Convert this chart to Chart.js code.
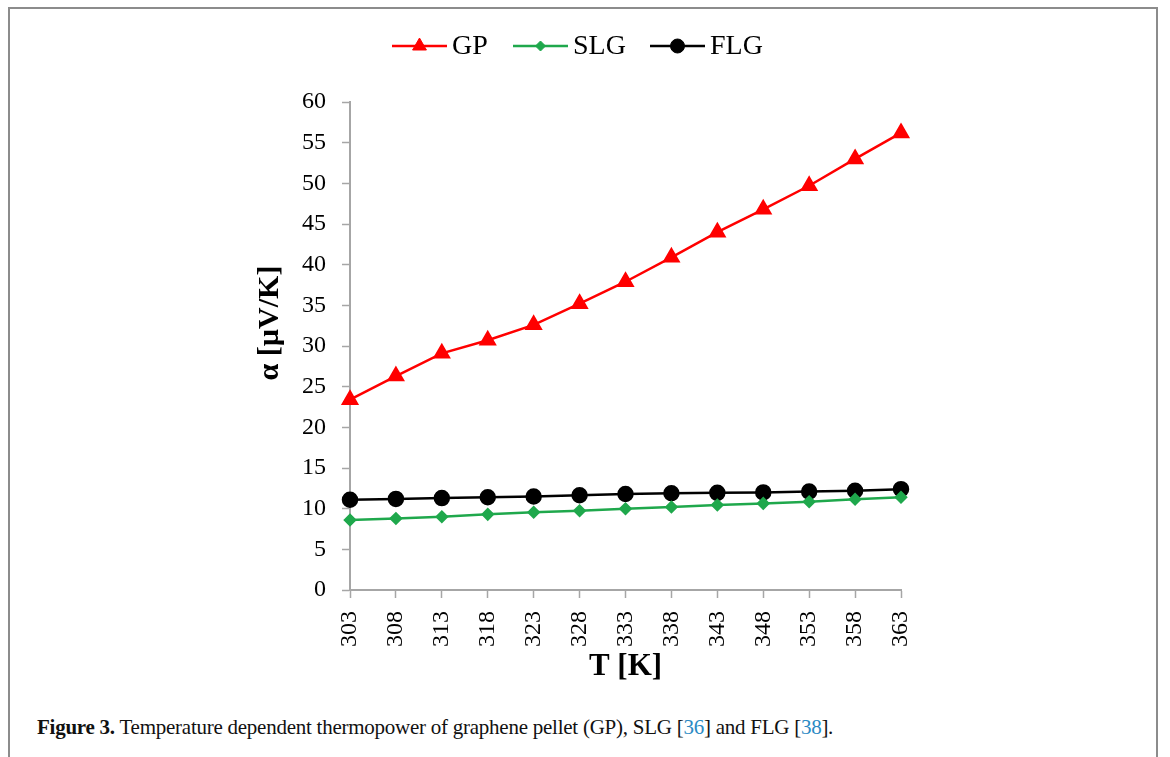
<!DOCTYPE html>
<html>
<head>
<meta charset="utf-8">
<script src="https://cdn.jsdelivr.net/npm/chart.js@4.4.1/dist/chart.umd.min.js"></script>
<style>
  html, body { margin: 0; padding: 0; background: #fff; }
  body { width: 1170px; height: 757px; position: relative; overflow: hidden; }
  #frame {
    position: absolute; left: 8px; top: 7px; width: 1150px; height: 800px;
    border: 2px solid #8c8c8c; box-sizing: border-box;
  }
  #chart { position: absolute; left: 0; top: 0; }
  #caption {
    position: absolute; left: 37px; top: 715px;
    font-family: "Liberation Serif", serif; font-size: 21px; color: #111;
    letter-spacing: -0.25px; white-space: nowrap;
  }
  #caption b { font-weight: bold; }
  #caption .ref { color: #2b8ac4; }
</style>
</head>
<body>
<div id="frame"></div>
<canvas id="chart" width="1170" height="700"></canvas>
<div id="caption"><b>Figure 3.</b> Temperature dependent thermopower of graphene pellet (GP), SLG [<span class="ref">36</span>] and FLG [<span class="ref">38</span>].</div>

<script>
// Dados
const temperatures = ['303', '308', '313', '318', '323', '328', '333', '338', '343', '348', '353', '358', '363'];
const gpValues  = [23.4, 26.3, 29.1, 30.7, 32.6, 35.2, 37.9, 40.9, 44.0, 46.8, 49.7, 53.0, 56.2];
const slgValues = [8.6, 8.8, 9.0, 9.3, 9.55, 9.75, 10.0, 10.2, 10.45, 10.65, 10.85, 11.15, 11.4];
const flgValues = [11.1, 11.2, 11.3, 11.4, 11.5, 11.65, 11.8, 11.9, 11.95, 12.0, 12.1, 12.2, 12.4];
const yTicks = { min: 0, max: 60, step: 5 };

const axisColor = '#a6a6a6';
const serif = '"Liberation Serif", "Times New Roman", serif';

// Legenda e título do eixo Y desenhados à mão
const extraText = {
  id: 'extraText',
  afterDraw(chart) {
    const ctx = chart.ctx;
    ctx.save();

    // título do eixo Y
    ctx.translate(270, 323);
    ctx.rotate(-Math.PI / 2);
    ctx.font = 'bold 30px ' + serif;
    ctx.fillStyle = '#000';
    ctx.textAlign = 'center';
    ctx.textBaseline = 'middle';
    ctx.fillText('α [µV/K]', 0, 0);
    ctx.restore();

    // legenda: linha + marcador + texto
    const starts = [392, 513, 650];
    const y = 46;
    chart.data.datasets.forEach((ds, i) => {
      const x0 = starts[i];
      const x1 = x0 + 55;
      ctx.save();
      ctx.strokeStyle = ds.borderColor;
      ctx.fillStyle = ds.borderColor;
      ctx.lineWidth = ds.borderWidth;
      ctx.beginPath();
      ctx.moveTo(x0, y);
      ctx.lineTo(x1, y);
      ctx.stroke();
      ctx.lineWidth = 1;
      Chart.helpers.drawPoint(ctx, {
        pointStyle: ds.pointStyle,
        radius: ds.pointRadius,
        rotation: 0,
        borderWidth: 1
      }, (x0 + x1) / 2, y);
      ctx.fillStyle = '#000';
      ctx.font = '28px ' + serif;
      ctx.textAlign = 'left';
      ctx.textBaseline = 'middle';
      ctx.fillText(ds.label, x1 + 5, y + 1);
      ctx.restore();
    });
  }
};

function makeDataset(label, data, color, style, radius) {
  return {
    label,
    data,
    borderColor: color,
    backgroundColor: color,
    pointBackgroundColor: color,
    pointBorderColor: color,
    borderWidth: 2.5,
    pointStyle: style,
    pointRadius: radius,
    pointHoverRadius: radius,
    tension: 0,
    fill: false
  };
}

const chart = new Chart(document.getElementById('chart'), {
  type: 'line',
  data: {
    labels: temperatures,
    datasets: [
      makeDataset('GP', gpValues, '#ff0000', 'triangle', 8),
      makeDataset('SLG', slgValues, '#1fa84c', 'rectRot', 5),
      makeDataset('FLG', flgValues, '#000000', 'circle', 7)
    ]
  },
  options: {
    responsive: false,
    animation: false,
    layout: { padding: { left: 0, right: 269, top: 102, bottom: 0 } },
    plugins: {
      legend: { display: false },
      tooltip: { enabled: false }
    },
    scales: {
      x: {
        offset: false,
        grid: {
          drawOnChartArea: false,
          drawTicks: true,
          tickLength: 8,
          tickColor: axisColor,
          tickWidth: 1.5
        },
        border: { color: axisColor, width: 2 },
        ticks: {
          autoSkip: false,
          minRotation: 90,
          maxRotation: 90,
          padding: 13,
          color: '#000',
          font: { family: serif, size: 24 }
        },
        title: {
          display: true,
          text: 'T [K]',
          color: '#000',
          font: { family: serif, size: 31, weight: 'bold' },
          padding: { top: 0, bottom: 14 }
        },
        afterFit(scale) { scale.height = 110; }
      },
      y: {
        min: yTicks.min,
        max: yTicks.max,
        grid: {
          drawOnChartArea: false,
          drawTicks: true,
          tickLength: 8,
          tickColor: axisColor,
          tickWidth: 1.5
        },
        border: { color: axisColor, width: 2 },
        ticks: {
          stepSize: yTicks.step,
          padding: 16,
          color: '#000',
          font: { family: serif, size: 24 }
        },
        afterFit(scale) { scale.width = 350; }
      }
    }
  },
  plugins: [extraText]
});
</script>
</body>
</html>
